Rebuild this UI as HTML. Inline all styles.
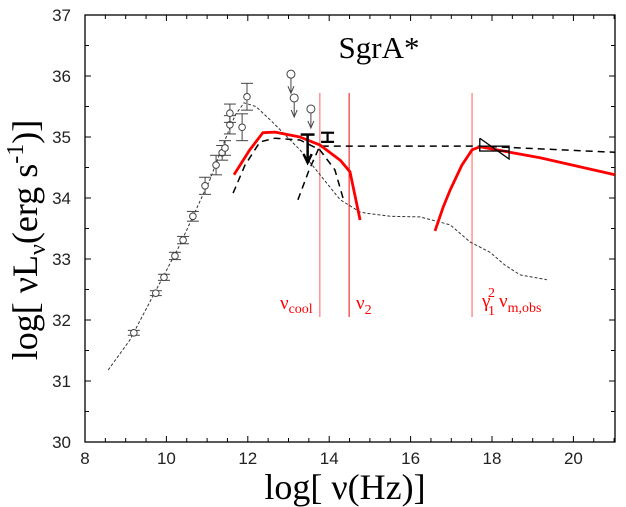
<!DOCTYPE html>
<html><head><meta charset="utf-8"><style>
body{margin:0;background:#fff;}
svg{display:block;}
text{font-family:"Liberation Sans",sans-serif;}
.serif{font-family:"Liberation Serif",serif;}
</style></head><body>
<svg id="chart" width="626" height="507" viewBox="0 0 626 507" xmlns="http://www.w3.org/2000/svg">
<g id="axes"></g>
<g id="marks"></g>
<text class="serif" x="379" y="58" font-size="31" text-anchor="middle" fill="#000">SgrA*</text>
<text class="serif" x="345" y="499" font-size="36" text-anchor="middle" fill="#000">log[ ν(Hz)]</text>
<text class="serif" transform="translate(37,240) rotate(-90)" font-size="36" text-anchor="middle" fill="#000">log[ νL<tspan font-size="24" dy="8">ν</tspan><tspan dy="-8">(erg s</tspan><tspan font-size="24" dy="-14">-1</tspan><tspan dy="14">)]</tspan></text>
<text class="serif" x="280" y="309" font-size="19" fill="#f00">ν<tspan font-size="14" dy="4">cool</tspan></text>
<text class="serif" x="356" y="309" font-size="19" fill="#f00">ν<tspan font-size="14" dy="5">2</tspan></text>
<text class="serif" x="482" y="307" font-size="19" fill="#f00">γ</text>
<text class="serif" x="488" y="315" font-size="14" fill="#f00">1</text>
<text class="serif" x="488" y="297" font-size="14" fill="#f00">2</text>
<text class="serif" x="499" y="307" font-size="19" fill="#f00">ν<tspan font-size="14" dy="5">m,obs</tspan></text>
</svg>
<script>
const xTicks=[8,10,12,14,16,18,20];
const yTicks=[30,31,32,33,34,35,36,37];
const obsX=[9.2,9.74,9.94,10.21,10.41,10.65,10.95,11.22,11.37,11.44,11.56,11.56,11.86,11.98];
const obsY=[31.79,32.44,32.70,33.05,33.31,33.70,34.20,34.54,34.74,34.82,35.2,35.39,35.16,35.66];
const obsErr=[0.04,0.04,0.05,0.06,0.06,0.08,0.14,0.16,0.12,0.12,0.15,0.15,0.22,0.22];
const limX=[13.06,13.14,13.55];
const limY=[36.03,35.64,35.46];
const thinX=[8.57,9.1,10.33,11.07,11.44,11.69,11.91,12.2,12.6,13.28,14.27,14.76,14.93,15.5,16.23,16.97,17.46,17.95,18.32,18.69,19.35];
const thinY=[31.18,31.67,33.23,34.3,34.95,35.36,35.56,35.5,35.25,34.79,33.97,33.77,33.75,33.7,33.69,33.56,33.28,33.11,32.9,32.74,32.66];
const red1X=[11.66,12.05,12.37,12.67,13.28,13.77,14.27,14.51,14.76];
const red1Y=[34.38,34.79,35.07,35.08,35.0,34.87,34.62,34.43,33.64];
const red2X=[16.6,16.8,16.97,17.26,17.51,17.7,19.18,21.02];
const red2Y=[33.46,33.85,34.13,34.54,34.79,34.84,34.66,34.38];
const dash1X=[11.64,11.93,12.3,12.67,13.28,13.77,14.14,14.34];
const dash1Y=[34.08,34.54,34.92,34.98,34.95,34.79,34.46,34.0];
const dash2X=[13.23,13.5,13.77,17.7,21.02];
const dash2Y=[33.97,34.45,34.85,34.85,34.75];
const vlineX=[13.77,14.49,17.51];
const X=v=>85+(v-8)*40.7;
const Y=l=>442-(l-30)*61;
const NS="http://www.w3.org/2000/svg";
function mk(parent,tag,attrs){const e=document.createElementNS(NS,tag);for(const k in attrs)e.setAttribute(k,attrs[k]);parent.appendChild(e);return e;}
const ax=document.getElementById('axes'),mg=document.getElementById('marks');
let f=mk(ax,'rect',{x:85,y:15,width:530,height:427,fill:'none',stroke:'#000','stroke-width':1.3});


for(let v=8;v<=21.001;v+=0.5){const big=Math.abs(v-Math.round(v/2)*2)<1e-6;const h=big?6:4;
 let t=mk(ax,'line',{x1:X(v),x2:X(v),y1:442,y2:442-h,stroke:'#000'});
 
 
 let t2=mk(ax,'line',{x1:X(v),x2:X(v),y1:15,y2:15+h,stroke:'#000'});
 
 }
for(let l=30;l<=37.001;l+=0.5){const h=Number.isInteger(l)?6:4;
 let t=mk(ax,'line',{x1:85,x2:85+h,y1:Y(l),y2:Y(l),stroke:'#000'});
 
 
 let t2=mk(ax,'line',{x1:615,x2:615-h,y1:Y(l),y2:Y(l),stroke:'#000'});
 
 }
xTicks.forEach(v=>{let t=mk(ax,'text',{x:X(v),y:464,'font-size':17,'text-anchor':'middle',fill:'#222'});t.textContent=v;
 
 });
yTicks.forEach(l=>{let t=mk(ax,'text',{x:71,y:Y(l)+6,'font-size':17,'text-anchor':'end',fill:'#222'});t.textContent=l;
 
 });
const pts=(xs,ys)=>xs.map((x,i)=>X(x).toFixed(1)+','+Y(ys[i]).toFixed(1)).join(' ');
vlineX.forEach(v=>{let l=mk(mg,'line',{x1:X(v),x2:X(v),y1:93,y2:317,stroke:v>14.2&&v<15?'#e33':'#f77','stroke-width':1.2});
 
 });
let p=mk(mg,'polyline',{points:pts(thinX,thinY),fill:'none',stroke:'#333','stroke-width':1,'stroke-dasharray':'3,2'});


p=mk(mg,'polyline',{points:pts(dash1X,dash1Y),fill:'none',stroke:'#000','stroke-width':1.5,'stroke-dasharray':'7,5'});


p=mk(mg,'polyline',{points:pts(dash2X,dash2Y),fill:'none',stroke:'#000','stroke-width':1.5,'stroke-dasharray':'7,5'});


p=mk(mg,'polyline',{points:pts(red1X,red1Y),fill:'none',stroke:'#f00','stroke-width':2.8,'stroke-linejoin':'round'});


p=mk(mg,'polyline',{points:pts(red2X,red2Y),fill:'none',stroke:'#f00','stroke-width':2.8,'stroke-linejoin':'round'});


obsX.forEach((x,i)=>{const cx=X(x),cy=Y(obsY[i]),e=obsErr[i]*61;
 const g=mk(mg,'g',{stroke:'#444',fill:'none','stroke-width':1});
 
 
 mk(g,'line',{x1:cx,x2:cx,y1:cy-e,y2:cy+e});
 mk(g,'line',{x1:cx-6,x2:cx+6,y1:cy-e,y2:cy-e});
 mk(g,'line',{x1:cx-6,x2:cx+6,y1:cy+e,y2:cy+e});
 mk(g,'circle',{cx:cx,cy:cy,r:3.3,fill:'#fff'});});
limX.forEach((x,i)=>{const cx=X(x),cy=Y(limY[i]);
 const g=mk(mg,'g',{stroke:'#444',fill:'none','stroke-width':1});
 
 
 mk(g,'circle',{cx:cx,cy:cy,r:4,fill:'#fff'});
 mk(g,'line',{x1:cx,x2:cx,y1:cy+4,y2:cy+19});
 mk(g,'path',{d:`M${cx-3},${cy+12} L${cx},${cy+19} L${cx+3},${cy+12}`});});
let g=mk(mg,'g',{stroke:'#000',fill:'none','stroke-width':2.5});


mk(g,'line',{x1:X(13.47),x2:X(13.47),y1:Y(35.04),y2:Y(34.58)});
mk(g,'line',{x1:X(13.3),x2:X(13.64),y1:Y(35.04),y2:Y(35.04)});
mk(g,'path',{d:`M${X(13.37)},${Y(34.72)} L${X(13.47)},${Y(34.58)} L${X(13.57)},${Y(34.72)}`});
g=mk(mg,'g',{stroke:'#000',fill:'none','stroke-width':2.2});


mk(g,'line',{x1:X(13.96),x2:X(13.96),y1:Y(35.07),y2:Y(34.92)});
mk(g,'line',{x1:X(13.8),x2:X(14.12),y1:Y(35.07),y2:Y(35.07)});
mk(g,'line',{x1:X(13.8),x2:X(14.12),y1:Y(34.92),y2:Y(34.92)});
g=mk(mg,'g',{stroke:'#000',fill:'none','stroke-width':1.3});


const bx1=X(17.7),bx2=X(18.42);
mk(g,'rect',{x:bx1,y:Y(34.85),width:bx2-bx1,height:Y(34.77)-Y(34.85)});
mk(g,'path',{d:`M${bx1},${Y(34.98)} L${bx1},${Y(34.77)} M${bx1},${Y(34.98)} L${bx2},${Y(34.64)} L${bx2},${Y(34.77)}`});
</script>
</body></html>
